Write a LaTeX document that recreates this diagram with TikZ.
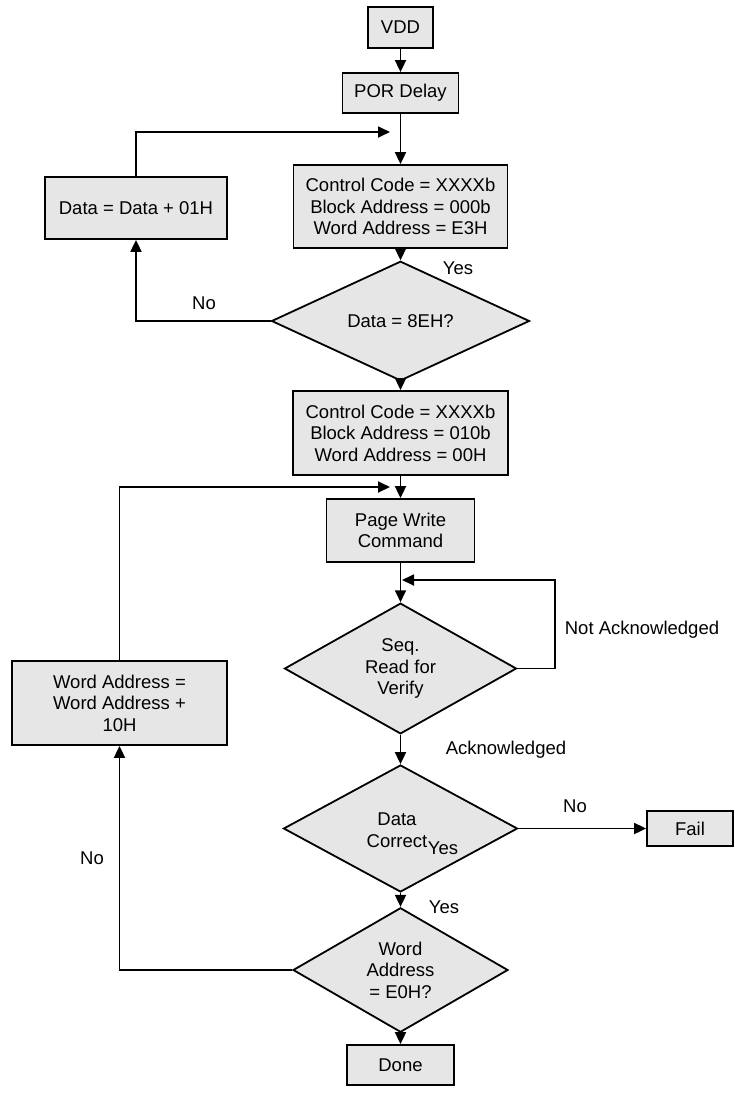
\documentclass[tikz,border=0pt]{standalone}
\usepackage{fontspec}
\setmainfont{Liberation Sans}
\usetikzlibrary{shapes.geometric,arrows.meta}
\definecolor{boxgray}{HTML}{E6E6E6}
\tikzset{
  box/.style={draw=black, fill=boxgray, line width=1.8pt, rectangle, inner sep=0pt, align=center, font=\fontsize{18.5}{21.5}\selectfont},
  dia/.style={draw=black, fill=boxgray, line width=1.8pt, diamond, aspect=1, inner sep=0pt, align=center, font=\fontsize{18.5}{21.5}\selectfont},
  conn/.style={line width=1.8pt, draw=black},
  arr/.style={conn, -{Triangle[length=12pt,width=11pt]}},
  lbl/.style={font=\fontsize{18.5}{21.5}\selectfont, inner sep=0pt},
}
\begin{document}
\begin{tikzpicture}[x=1pt,y=-1pt]
\useasboundingbox (0,0) rectangle (735,1093);
% boxes
\node[box, minimum width=65pt, minimum height=41pt] (vdd) at (400.5,27.5) {VDD};
\node[box, minimum width=116pt, minimum height=40pt] (por) at (400.5,93) {POR Delay};
\node[box, minimum width=214pt, minimum height=83pt] (cb1) at (400.5,206.5) {Control Code = XXXXb\\Block Address = 000b\\Word Address = E3H};
\node[box, minimum width=182pt, minimum height=62pt] (data) at (136,208) {Data = Data + 01H};
\node[dia, minimum width=258pt, minimum height=92pt] (d1) at (400.5,321) {Data = 8EH?};
\node[box, minimum width=215pt, minimum height=84pt] (cb2) at (400.5,433) {Control Code = XXXXb\\Block Address = 010b\\Word Address = 00H};
\node[box, minimum width=148pt, minimum height=63pt] (pw) at (400.5,530.5) {Page Write\\Command};
\node[dia, minimum width=232pt, minimum height=123pt] (d2) at (400.5,668.5) {Seq.\\Read for\\Verify};
\node[box, minimum width=215pt, minimum height=84pt] (wa) at (119.5,703) {Word Address =\\Word Address +\\10H};
\node[dia, minimum width=234pt, minimum height=127pt] (d3) at (400.5,828.5) {};
\node[lbl, align=center] (d3t) at (397,830) {Data\\Correct};
\node[box, minimum width=86pt, minimum height=35pt] (fail) at (690,828.5) {Fail};
\node[dia, minimum width=215pt, minimum height=106pt] (d4) at (400.5,970) {Word\\Address\\= E0H?};
\node[box, minimum width=107pt, minimum height=40pt] (done) at (400.5,1065) {Done};
% junction coordinates
\coordinate (j1) at (390,132);
\coordinate (j2) at (390,487);
\coordinate (j3) at (402,580);
\coordinate (r2) at (555,668.5);
% connectors
\draw[arr] (vdd) -- (por);
\draw[arr] (por) -- (cb1);
\draw[arr] (data.north) |- (j1);
\draw[arr] (cb1) -- (d1);
\draw[arr] (d1.west) -| (data.south);
\draw[arr] (d1) -- (cb2);
\draw[arr] (cb2) -- (pw);
\draw[arr] (wa.north) |- (j2);
\draw[arr] (pw) -- (d2);
\draw[arr] (d2.east) -- (r2) |- (j3);
\draw[arr] (d2) -- (d3);
\draw[arr] (d3.east) -- (fail.west);
\draw[arr] (d3) -- (d4);
\draw[arr] (d4.west) -| (wa.south);
\draw[arr] (d4) -- (done);
% labels
\node[lbl] (lyes1) at (458,268) {Yes};
\node[lbl] (lno1) at (204,303) {No};
\node[lbl] (lnack) at (642,630) {Not Acknowledged};
\node[lbl] (lack) at (506,750) {Acknowledged};
\node[lbl] (lno2) at (575,806) {No};
\node[lbl] (lyes2) at (443,848) {Yes};
\node[lbl] (lyes3) at (444,907) {Yes};
\node[lbl] (lno3) at (92,858) {No};
\end{tikzpicture}
\end{document}
